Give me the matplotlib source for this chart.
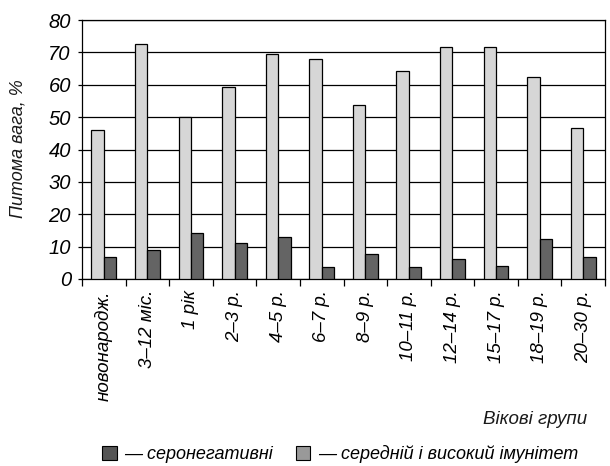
import matplotlib
matplotlib.use("Agg")
import matplotlib.pyplot as plt
from matplotlib.patches import Patch
import numpy as np

categories = ["новонародж.", "3–12 міс.", "1 рік", "2–3 р.", "4–5 р.", "6–7 р.",
              "8–9 р.", "10–11 р.", "12–14 р.", "15–17 р.", "18–19 р.", "20–30 р."]
immune = [46.0, 72.6, 49.9, 59.2, 69.6, 67.8, 53.7, 64.3, 71.8, 71.8, 62.4, 46.7]
seroneg = [6.7, 9.0, 14.2, 11.0, 13.0, 3.6, 7.6, 3.6, 6.3, 3.9, 12.4, 6.7]
yticks = [0, 10, 20, 30, 40, 50, 60, 70, 80]

FONT = ["Liberation Sans Narrow", "Liberation Sans", "DejaVu Sans"]
plt.rcParams["font.family"] = FONT
plt.rcParams["font.style"] = "italic"

fig = plt.figure(figsize=(6.10, 4.66), dpi=100)
ax = fig.add_axes([82 / 610, 1 - 279 / 466, 523 / 610, 259 / 466])

x = np.arange(len(categories))
w = 0.285
ax.bar(x - w / 2, immune, width=w, color="#d6d6d6", edgecolor="black", linewidth=0.9, zorder=3)
ax.bar(x + w / 2, seroneg, width=w, color="#646464", edgecolor="black", linewidth=0.9, zorder=3)

ax.set_xlim(-0.5, len(categories) - 0.5)
ax.set_ylim(0, 80)
ax.set_yticks(yticks)
ax.set_yticklabels([str(t) for t in yticks], fontsize=14.5, fontstyle="italic")
for t in yticks:
    ax.axhline(t, color="black", linewidth=0.9, zorder=1)

# category ticks sit on the boundaries; labels at the centres
ax.set_xticks(np.arange(len(categories) + 1) - 0.5, minor=False)
ax.set_xticklabels([])
ax.set_xticks(x, minor=True)
ax.set_xticklabels(categories, minor=True, rotation=90, fontsize=13.5, fontstyle="italic",
                   va="top", ha="center")
ax.tick_params(axis="x", which="major", length=5, width=0.9, direction="out")
ax.tick_params(axis="x", which="minor", length=0, pad=8)
ax.tick_params(axis="y", length=3, width=0.9, direction="out", pad=5)

for s in ax.spines.values():
    s.set_linewidth(0.9)
    s.set_color("black")

fig.text(18 / 610, 1 - 149 / 466, "Питома вага, %", rotation=90, ha="center", va="center",
         fontsize=13, fontstyle="italic", color="#1a1a1a")
fig.text(587 / 610, 1 - 420 / 466, "Вікові групи", ha="right", va="center",
         fontsize=13.5, fontstyle="italic", color="#1a1a1a")

handles = [Patch(facecolor="#555555", edgecolor="black", linewidth=0.8),
           Patch(facecolor="#999999", edgecolor="black", linewidth=0.8)]
labels = ["— серонегативні", "— середній і високий імунітет"]
fig.legend(handles, labels, loc="center", bbox_to_anchor=(340 / 610, 1 - 454 / 466),
           ncol=2, frameon=False, handlelength=0.8, handleheight=0.8,
           handletextpad=0.4, columnspacing=1.3, prop={"family": FONT, "style": "italic", "size": 13})

fig.savefig("out.png", dpi=100)
